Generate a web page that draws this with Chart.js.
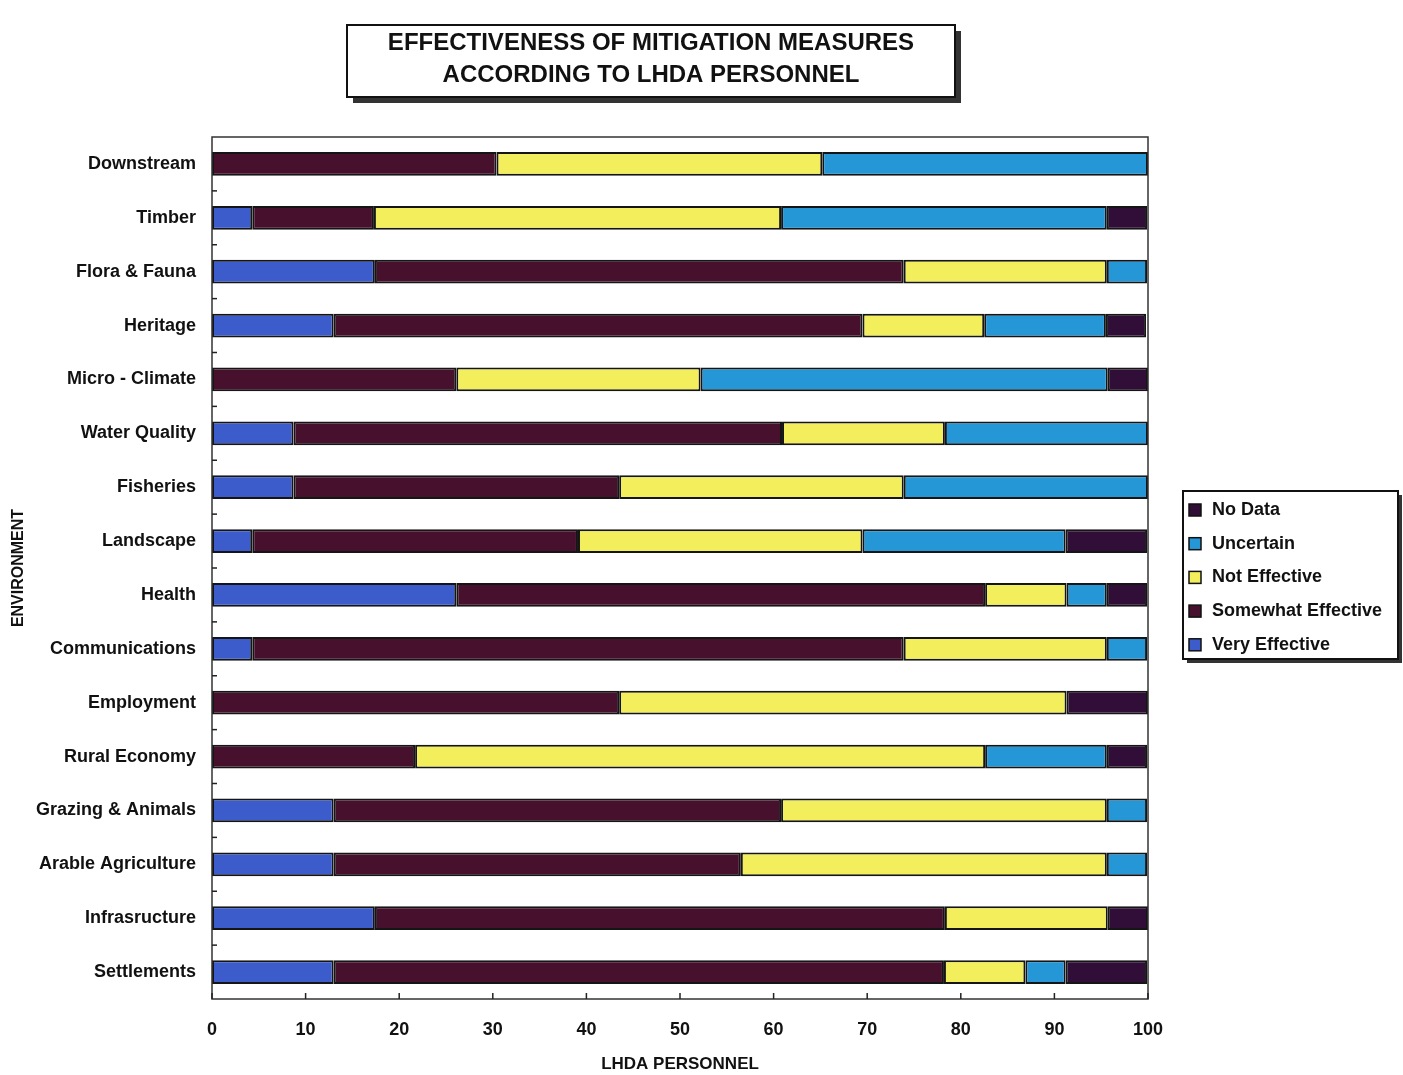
<!DOCTYPE html>
<html>
<head>
<meta charset="utf-8">
<title>Effectiveness of Mitigation Measures</title>
<script src="https://cdn.jsdelivr.net/npm/chart.js@4.4.1/dist/chart.umd.min.js"></script>
<style>
  html, body { margin: 0; padding: 0; background: #fff; }
  #wrap { position: relative; width: 1403px; height: 1075px; }
</style>
</head>
<body>
<div id="wrap"><canvas id="chart"></canvas></div>
<script>
// categories, top to bottom
const CATEGORIES = [
  'Downstream', 'Timber', 'Flora & Fauna', 'Heritage', 'Micro - Climate',
  'Water Quality', 'Fisheries', 'Landscape', 'Health', 'Communications',
  'Employment', 'Rural Economy', 'Grazing & Animals', 'Arable Agriculture',
  'Infrasructure', 'Settlements'
];

// % of LHDA personnel
const VERY_EFFECTIVE     = [0, 4.3, 17.4, 13.0, 0, 8.7, 8.7, 4.3, 26.1, 4.3, 0, 0, 13.0, 13.0, 17.4, 13.0];
const SOMEWHAT_EFFECTIVE = [30.4, 13.0, 56.5, 56.5, 26.1, 52.2, 34.8, 34.8, 56.5, 69.6, 43.5, 21.7, 47.8, 43.5, 60.9, 65.2];
const NOT_EFFECTIVE      = [34.8, 43.5, 21.7, 13.0, 26.1, 17.4, 30.4, 30.4, 8.7, 21.7, 47.8, 60.9, 34.8, 39.1, 17.4, 8.7];
const UNCERTAIN          = [34.8, 34.8, 4.3, 13.0, 43.5, 21.7, 26.1, 21.7, 4.3, 4.3, 0, 13.0, 4.3, 4.3, 0, 4.3];
const NO_DATA            = [0, 4.3, 0, 4.3, 4.3, 0, 0, 8.7, 4.3, 0, 8.7, 4.3, 0, 0, 4.3, 8.7];

const TITLE_LINES = ['EFFECTIVENESS OF MITIGATION MEASURES', 'ACCORDING TO LHDA PERSONNEL'];

const FONT = "'Liberation Sans', Arial, sans-serif";
const INK = '#111';

Chart.defaults.font.family = FONT;
Chart.defaults.font.weight = 'bold';
Chart.defaults.color = INK;

function seg(label, data, color) {
  return {
    label,
    data,
    backgroundColor: color,
    borderColor: '#151515',
    borderWidth: 2,
    borderSkipped: false,
    barPercentage: 0.44,
    categoryPercentage: 1.0,
  };
}

// --- plot frame + little inside ticks ---------------------------------
const framePlugin = {
  id: 'frame',
  afterDatasetsDraw(chart) {
    const { ctx, chartArea: a, scales } = chart;
    ctx.save();
    ctx.strokeStyle = '#333';
    ctx.lineWidth = 1.5;
    ctx.strokeRect(a.left, a.top, a.right - a.left, a.bottom - a.top);

    ctx.strokeStyle = '#222';
    scales.x.ticks.forEach((t, i) => {
      const x = scales.x.getPixelForTick(i);
      ctx.beginPath();
      ctx.moveTo(x, a.bottom);
      ctx.lineTo(x, a.bottom - 6);
      ctx.stroke();
    });
    for (let i = 0; i < CATEGORIES.length - 1; i++) {
      const y = (scales.y.getPixelForValue(i) + scales.y.getPixelForValue(i + 1)) / 2;
      ctx.beginPath();
      ctx.moveTo(a.left, y);
      ctx.lineTo(a.left + 5, y);
      ctx.stroke();
    }
    ctx.restore();
  }
};

// --- boxed title with drop shadow ------------------------------------
const titleBoxPlugin = {
  id: 'titleBox',
  afterDraw(chart) {
    const { ctx } = chart;
    const x = 347, y = 25, w = 608, h = 72;
    ctx.save();
    ctx.fillStyle = '#333';
    ctx.fillRect(x + 6, y + 6, w, h);
    ctx.fillStyle = '#fff';
    ctx.fillRect(x, y, w, h);
    ctx.strokeStyle = '#111';
    ctx.lineWidth = 2;
    ctx.strokeRect(x, y, w, h);
    ctx.fillStyle = INK;
    ctx.font = `bold 24px ${FONT}`;
    ctx.textAlign = 'center';
    ctx.textBaseline = 'middle';
    ctx.fillText(TITLE_LINES[0], x + w / 2, y + 18);
    ctx.fillText(TITLE_LINES[1], x + w / 2, y + 50);
    ctx.restore();
  }
};

// --- boxed legend on the right, last series on top -----------------------
const legendBoxPlugin = {
  id: 'legendBox',
  afterDraw(chart) {
    const { ctx } = chart;
    const x = 1183, y = 491, w = 215, h = 168;
    ctx.save();
    ctx.fillStyle = '#333';
    ctx.fillRect(x + 4, y + 4, w, h);
    ctx.fillStyle = '#fff';
    ctx.fillRect(x, y, w, h);
    ctx.strokeStyle = '#111';
    ctx.lineWidth = 2;
    ctx.strokeRect(x, y, w, h);

    ctx.font = `bold 18px ${FONT}`;
    ctx.textAlign = 'left';
    ctx.textBaseline = 'middle';
    const items = chart.data.datasets.slice().reverse();
    items.forEach((ds, i) => {
      const cy = y + 19 + i * 33.7;
      ctx.fillStyle = ds.backgroundColor;
      ctx.fillRect(x + 6, cy - 6, 12, 12);
      ctx.strokeStyle = '#111';
      ctx.lineWidth = 1.5;
      ctx.strokeRect(x + 6, cy - 6, 12, 12);
      ctx.fillStyle = INK;
      ctx.fillText(ds.label, x + 29, cy);
    });
    ctx.restore();
  }
};

new Chart(document.getElementById('chart').getContext('2d'), {
  type: 'bar',
  data: {
    labels: CATEGORIES,
    datasets: [
      seg('Very Effective', VERY_EFFECTIVE, '#3d5ccb'),
      seg('Somewhat Effective', SOMEWHAT_EFFECTIVE, '#47112d'),
      seg('Not Effective', NOT_EFFECTIVE, '#f3ef5c'),
      seg('Uncertain', UNCERTAIN, '#2596d6'),
      seg('No Data', NO_DATA, '#300e37'),
    ]
  },
  options: {
    indexAxis: 'y',
    responsive: true,
    maintainAspectRatio: false,
    animation: false,
    layout: { padding: { top: 137, right: 255, left: 0, bottom: 0 } },
    plugins: {
      legend: { display: false },
      title: { display: false },
      tooltip: { enabled: false },
    },
    scales: {
      x: {
        stacked: true,
        min: 0,
        max: 100,
        ticks: { stepSize: 10, padding: 20, color: INK, font: { size: 18, weight: 'bold' } },
        grid: { display: false, drawTicks: false },
        border: { display: false },
        title: {
          display: true,
          text: 'LHDA PERSONNEL',
          color: INK,
          font: { size: 17, weight: 'bold' },
          padding: { top: 0, bottom: 0 },
        },
        afterFit(scale) { scale.height = 76; },
      },
      y: {
        stacked: true,
        ticks: { padding: 16, color: INK, font: { size: 18, weight: 'bold' } },
        grid: { display: false, drawTicks: false },
        border: { display: false },
        title: {
          display: true,
          text: 'ENVIRONMENT',
          color: INK,
          font: { size: 16, weight: 'bold' },
          padding: { top: 9, bottom: 0 },
        },
        afterFit(scale) { scale.width = 212; },
      }
    }
  },
  plugins: [framePlugin, titleBoxPlugin, legendBoxPlugin]
});
</script>
</body>
</html>
